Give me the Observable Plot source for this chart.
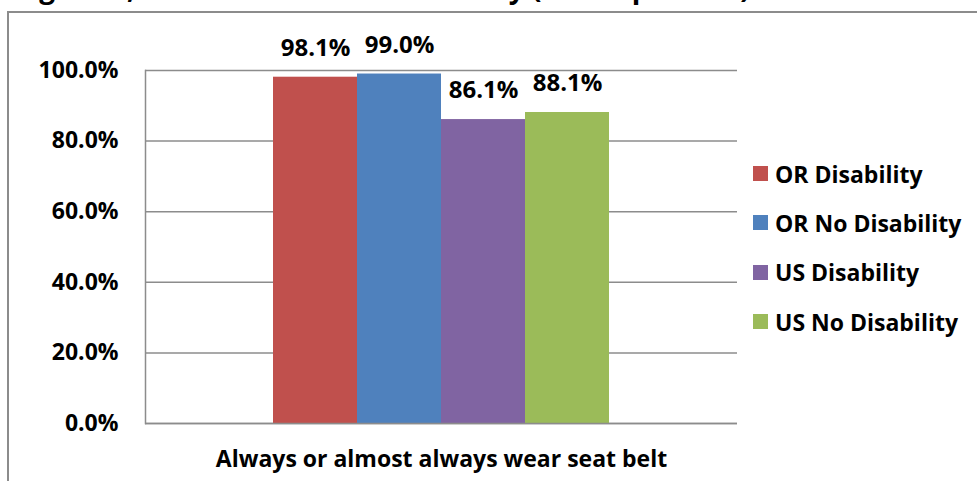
<!DOCTYPE html>
<html>
<head>
<meta charset="utf-8">
<script src="https://cdn.jsdelivr.net/npm/d3@7"></script>
<script src="https://cdn.jsdelivr.net/npm/@observablehq/plot@0.6"></script>
<style>
  html, body { margin: 0; padding: 0; background: #fff; overflow: hidden; }
  #wrap { position: relative; width: 977px; height: 481px; overflow: hidden; font-family: "Open Sans", Lato, sans-serif; }
  #title { position: absolute; left: 20px; top: -31px; font-size: 28px; line-height: 36px; font-weight: 700; white-space: nowrap; color: #000; }
  #border { position: absolute; left: 7px; top: 11px; width: 1000px; height: 500px; border: 2px solid #8c8c8c; box-sizing: border-box; background: transparent; }
  #chart { position: absolute; left: 0; top: 0; }
  #legend { position: absolute; left: 753px; top: 149px; }
  .item { display: flex; align-items: center; height: 49.3px; font-size: 23px; font-weight: 700; color: #000; white-space: nowrap; }
  .sw { width: 15px; height: 15px; margin-right: 7px; flex: none; }
</style>
</head>
<body>
<div id="wrap">
  <div id="title">Age 18+, Seat Belt Use and Disability (Crude percent)</div>
  <div id="border"></div>
  <div id="chart"></div>
  <div id="legend"></div>
</div>
<script>
const category = "Always or almost always wear seat belt";
const series = ["OR Disability", "OR No Disability", "US Disability", "US No Disability"];
const values = [0.981, 0.990, 0.861, 0.881];
const colors = ["#C0504D", "#4F81BD", "#8064A2", "#9BBB59"];
const yTicks = [0, 0.2, 0.4, 0.6, 0.8, 1.0];

const data = series.map((s, i) => ({series: s, value: values[i], category}));

const plot = Plot.plot({
  width: 977,
  height: 481,
  marginLeft: 145,
  marginRight: 240,
  marginTop: 70,
  marginBottom: 58,
  style: {fontFamily: "'Open Sans', Lato, sans-serif", background: "transparent"},
  x: {domain: series, paddingInner: 0, paddingOuter: 1.51, axis: null},
  y: {domain: [0, 1], ticks: yTicks, tickFormat: d3.format(".1%"), label: null},
  color: {domain: series, range: colors},
  marks: [
    Plot.gridY(yTicks, {stroke: "#8c8c8c", strokeOpacity: 1, strokeWidth: 1.5}),
    Plot.barY(data, {x: "series", y: "value", fill: "series", inset: 0}),
    Plot.frame({anchor: "left", stroke: "#8c8c8c", strokeWidth: 1.5}),
    Plot.ruleY([0], {stroke: "#8c8c8c", strokeWidth: 1.5}),
    Plot.axisY({ticks: yTicks, tickFormat: d3.format(".1%"), tickSize: 0, tickPadding: 27, fontSize: 23, fontWeight: 700, fill: "#000", label: null}),
    Plot.text(data, {x: "series", y: "value", text: d => d3.format(".1%")(d.value), dy: -29, fontSize: 24, fontWeight: 700, fill: "#000"}),
    Plot.text([category], {frameAnchor: "bottom", text: d => d, dy: 43, fontSize: 23, fontWeight: 700, fill: "#000"})
  ]
});
document.getElementById("chart").appendChild(plot);

const legend = document.getElementById("legend");
series.forEach((s, i) => {
  const item = document.createElement("div");
  item.className = "item";
  const sw = document.createElement("div");
  sw.className = "sw";
  sw.style.background = colors[i];
  const label = document.createElement("span");
  label.textContent = s;
  item.appendChild(sw);
  item.appendChild(label);
  legend.appendChild(item);
});
</script>
</body>
</html>
